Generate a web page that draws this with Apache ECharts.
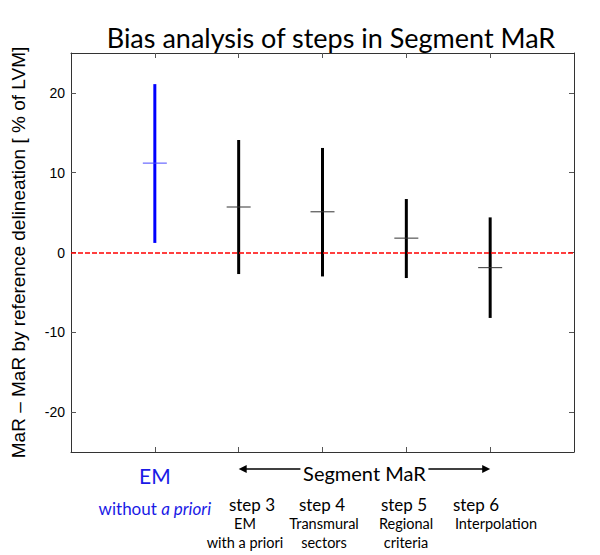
<!DOCTYPE html>
<html>
<head>
<meta charset="utf-8">
<script src="https://cdn.jsdelivr.net/npm/echarts@6/dist/echarts.min.js"></script>
<style>html,body{margin:0;padding:0;background:#fff}#c{width:600px;height:555px}</style>
</head>
<body>
<div id="c"></div>
<script>
// ---- data ----
const xPositions = [1, 2, 3, 4, 5];
const lowValues  = [1.2, -2.7, -3.0, -3.2, -8.2];
const meanValues = [11.2, 5.7, 5.1, 1.8, -1.9];
const highValues = [21.1, 14.1, 13.1, 6.7, 4.4];
const yTickValues = [-20, -10, 0, 10, 20];
const xTickValues = [1, 2, 3, 4, 5];
const titleText = 'Bias analysis of steps in Segment MaR';
const yAxisTitle = 'MaR \u2013 MaR by reference delineation [ % of LVM]';
const groupMain = 'EM';
const groupSubPlain = 'without ';
const groupSubItalic = 'a priori';
const segmentText = 'Segment MaR';
const stepLabels = ['step 3', 'step 4', 'step 5', 'step 6'];
const stepSubLabels = [['EM', 'with a priori'], ['Transmural', 'sectors'], ['Regional', 'criteria'], ['Interpolation']];

const chart = echarts.init(document.getElementById('c'), null, {renderer: 'svg'});

const seriesData = xPositions.map((x, i) => [x, lowValues[i], meanValues[i], highValues[i]]);

const axisLineStyle = {color: '#333', width: 1};
const tickStyle = {color: '#555', width: 1};
const arial = 'Liberation Sans, Arial, sans-serif';

chart.setOption({
  animation: false,
  title: {
    text: titleText, left: 326, top: 19, textAlign: 'center',
    textStyle: {fontFamily: 'Lato', fontSize: 27, fontWeight: 'normal', color: '#000'}
  },
  grid: {left: 71, right: 26, top: 53, bottom: 103, containLabel: false, outerBoundsMode: 'none'},
  xAxis: [
    {type: 'value', min: 0, max: 6, interval: 1, position: 'bottom',
     axisLine: {show: true, onZero: false, lineStyle: axisLineStyle},
     axisTick: {show: true, inside: true, length: 5, lineStyle: tickStyle, customValues: xTickValues},
     axisLabel: {show: false}, splitLine: {show: false}},
    {type: 'value', min: 0, max: 6, interval: 1, position: 'top',
     axisLine: {show: true, onZero: false, lineStyle: axisLineStyle},
     axisTick: {show: true, inside: true, length: 5, lineStyle: tickStyle, customValues: xTickValues},
     axisLabel: {show: false}, splitLine: {show: false}}
  ],
  yAxis: [
    {type: 'value', min: -25, max: 25, interval: 5, position: 'left',
     name: yAxisTitle, nameLocation: 'middle', nameGap: 43,
     nameTextStyle: {fontFamily: arial, fontSize: 19, color: '#000'},
     axisLine: {show: true, onZero: false, lineStyle: axisLineStyle},
     axisTick: {show: true, inside: true, length: 5, lineStyle: tickStyle, customValues: yTickValues},
     axisLabel: {show: true, margin: 6, customValues: yTickValues,
       fontFamily: arial, fontSize: 14, color: '#000'},
     splitLine: {show: false}},
    {type: 'value', min: -25, max: 25, interval: 5, position: 'right',
     axisLine: {show: true, onZero: false, lineStyle: axisLineStyle},
     axisTick: {show: true, inside: true, length: 5, lineStyle: tickStyle, customValues: yTickValues},
     axisLabel: {show: false}, splitLine: {show: false}}
  ],
  series: [{
    type: 'custom',
    xAxisIndex: 0, yAxisIndex: 0,
    data: seriesData,
    renderItem: function (params, api) {
      const x = api.value(0);
      const pLow = api.coord([x, api.value(1)]);
      const pMean = api.coord([x, api.value(2)]);
      const pHigh = api.coord([x, api.value(3)]);
      const isFirst = params.dataIndex === 0;
      const barColor = isFirst ? '#0000ff' : '#000';
      const meanColor = isFirst ? '#4a4aff' : '#333';
      return {
        type: 'group',
        children: [
          {type: 'line', shape: {x1: pLow[0], y1: pLow[1], x2: pHigh[0], y2: pHigh[1]},
           style: {stroke: barColor, lineWidth: 3}},
          {type: 'line', shape: {x1: pMean[0] - 12, y1: pMean[1], x2: pMean[0] + 12, y2: pMean[1]},
           style: {stroke: meanColor, lineWidth: 1}}
        ]
      };
    },
    markLine: {
      silent: true, symbol: ['none', 'none'], label: {show: false},
      lineStyle: {color: '#ff0000', type: [5, 2], width: 1.5},
      data: [{yAxis: 0}]
    },
    z: 2
  }]
});

// ---- annotations below the axis ----
function px(x) { return chart.convertToPixel({xAxisIndex: 0}, x); }
const graphics = [];
const calibri = 'Lato';
const blue = '#1a1ae6';
// EM group
graphics.push({type: 'text', x: px(1), y: 475, style: {text: groupMain, fontFamily: calibri, fontSize: 21,
  fill: blue, align: 'center', verticalAlign: 'middle'}});
graphics.push({type: 'text', x: px(1), y: 508, style: {
  text: '{n|' + groupSubPlain + '}{i|' + groupSubItalic + '}', align: 'center', verticalAlign: 'middle',
  rich: {n: {fontFamily: calibri, fontSize: 17, fill: blue, color: blue},
         i: {fontFamily: calibri, fontSize: 17, fontStyle: 'italic', fill: blue, color: blue}}}});
// Segment MaR with arrows
const segCenter = px(3.5), arrowL = px(2), arrowR = px(5), arrowY = 469;
graphics.push({type: 'text', x: segCenter, y: 473, style: {text: segmentText, fontFamily: calibri,
  fontSize: 20, fill: '#000', align: 'center', verticalAlign: 'middle'}});
graphics.push({type: 'line', shape: {x1: arrowL + 6, y1: arrowY, x2: segCenter - 64, y2: arrowY},
  style: {stroke: '#000', lineWidth: 1.6}});
graphics.push({type: 'line', shape: {x1: segCenter + 64, y1: arrowY, x2: arrowR - 6, y2: arrowY},
  style: {stroke: '#000', lineWidth: 1.6}});
graphics.push({type: 'polygon', shape: {points: [[arrowL, arrowY], [arrowL + 8, arrowY - 4], [arrowL + 8, arrowY + 4]]},
  style: {fill: '#000'}});
graphics.push({type: 'polygon', shape: {points: [[arrowR, arrowY], [arrowR - 8, arrowY - 4], [arrowR - 8, arrowY + 4]]},
  style: {fill: '#000'}});
// steps
const stepCenters = [252, 322, 404, 476];
const subCenters = [245, 324, 406, 496];
stepLabels.forEach((s, i) => {
  graphics.push({type: 'text', x: stepCenters[i], y: 504, style: {text: s, fontFamily: calibri, fontSize: 17,
    fill: '#000', align: 'center', verticalAlign: 'middle'}});
  stepSubLabels[i].forEach((t, j) => {
    graphics.push({type: 'text', x: subCenters[i], y: 523 + j * 19, style: {text: t, fontFamily: calibri,
      fontSize: 14.5, fill: '#000', align: 'center', verticalAlign: 'middle'}});
  });
});
chart.setOption({graphic: graphics});
</script>
</body>
</html>
